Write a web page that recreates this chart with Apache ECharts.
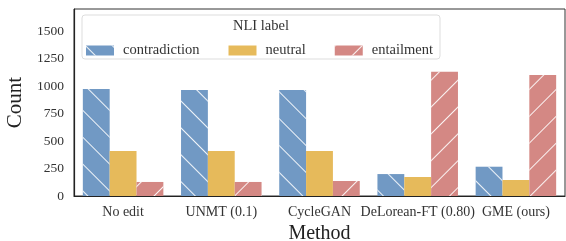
<!DOCTYPE html>
<html>
<head>
<meta charset="utf-8">
<script src="https://cdn.jsdelivr.net/npm/echarts@6/dist/echarts.min.js"></script>
<style>
  html, body { margin: 0; padding: 0; background: #fff; }
  #chart { width: 566px; height: 241px; }
</style>
</head>
<body>
<div id="chart"></div>
<script>
// data
const methods = ['No edit', 'UNMT (0.1)', 'CycleGAN', 'DeLorean-FT (0.80)', 'GME (ours)'];
const contradiction = [975, 966, 966, 200, 267];
const neutral = [410, 410, 410, 173, 146];
const entailment = [128, 128, 137, 1133, 1103];
const yTicks = [0, 250, 500, 750, 1000, 1250, 1500];

const serif = 'Liberation Serif';

function hatch(rot) {
    return {
        symbol: 'rect',
        symbolSize: 1,
        color: 'rgba(255,255,255,0.9)',
        dashArrayX: [1, 0],
        dashArrayY: [1, 18],
        rotation: rot
    };
}

function bar(name, data, color, decal) {
    let s = {
        name: name,
        type: 'bar',
        data: data,
        barGap: '0%',
        barCategoryGap: '18%',
        itemStyle: {color: color},
        emphasis: {disabled: true}
    };
    if (decal) {
        s.itemStyle.decal = decal;
    }
    return s;
}

let chart = echarts.init(document.getElementById('chart'), null, {renderer: 'canvas'});
let option = {
    animation: false,
    grid: {
        left: 74, right: 1, top: 9, bottom: 45,
        containLabel: false,
        outerBoundsMode: 'none',
        show: true, borderColor: '#333', borderWidth: 1
    },
    graphic: [
        {
            type: 'rect',
            shape: {x: 82, y: 15, width: 358, height: 44, r: 3},
            style: {fill: 'rgba(255,255,255,0.85)', stroke: '#ddd', lineWidth: 1},
            z: 10
        },
        {
            type: 'text',
            x: 261, y: 26,
            style: {
                text: 'NLI label', fontFamily: serif, fontSize: 14.5, fill: '#333',
                align: 'center', verticalAlign: 'middle'
            },
            z: 11
        }
    ],
    legend: {
        left: 81, top: 38,
        icon: 'rect',
        itemWidth: 28, itemHeight: 10, itemGap: 29,
        textStyle: {fontFamily: serif, fontSize: 14.5, color: '#333', padding: [0, 0, 0, 4]},
        data: ['contradiction', 'neutral', 'entailment'],
        z: 12
    },
    xAxis: {
        type: 'category',
        data: methods,
        name: 'Method',
        nameLocation: 'middle',
        nameGap: 27,
        nameTextStyle: {fontFamily: serif, fontSize: 20, color: '#222'},
        axisLine: {lineStyle: {color: '#222', width: 1.2}},
        axisTick: {show: false},
        axisLabel: {fontFamily: serif, fontSize: 14, color: '#333', margin: 9, interval: 0}
    },
    yAxis: {
        type: 'value',
        min: 0, max: 1705, interval: 250,
        name: 'Count',
        nameLocation: 'middle',
        nameGap: 38,
        nameTextStyle: {fontFamily: serif, fontSize: 21, color: '#222'},
        axisLine: {show: true, lineStyle: {color: '#222', width: 1.2}},
        axisTick: {show: false},
        splitLine: {show: false},
        axisLabel: {
            fontFamily: serif, fontSize: 13.5, color: '#333', margin: 10,
            showMaxLabel: false,
            formatter: function (v) {
                return yTicks.indexOf(v) >= 0 ? String(v) : '';
            }
        }
    },
    series: [
        bar('contradiction', contradiction, '#7199c4', hatch(Math.PI / 4)),
        bar('neutral', neutral, '#e6ba5b', null),
        bar('entailment', entailment, '#d48884', hatch(-Math.PI / 4))
    ]
};
chart.setOption(option);
</script>
</body>
</html>
